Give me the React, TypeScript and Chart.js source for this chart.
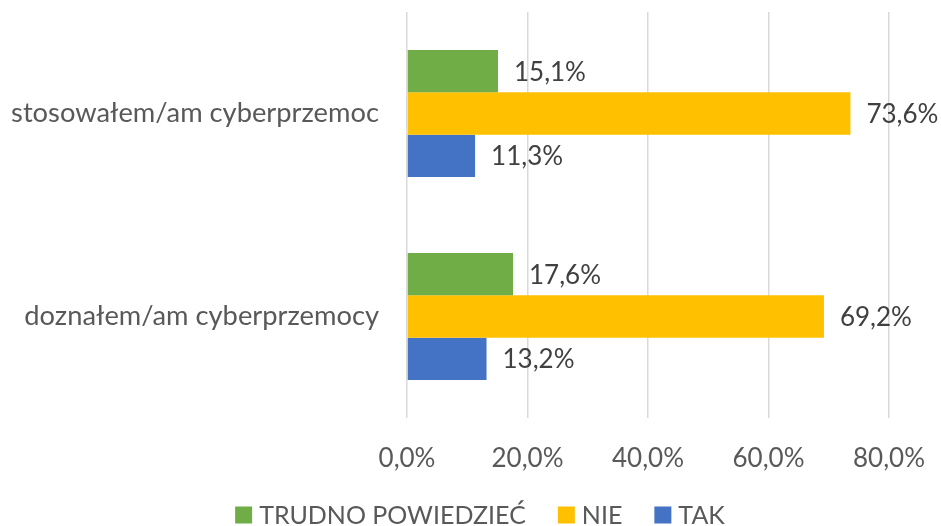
import React, { useEffect, useRef } from "react";
import { Chart, registerables } from "chart.js";

Chart.register(...registerables);

const categories = ["stosowałem/am cyberprzemoc", "doznałem/am cyberprzemocy"];
const seriesNames = ["TRUDNO POWIEDZIEĆ", "NIE", "TAK"];
const trudnoPowiedziec = [15.1, 17.6];
const nie = [73.6, 69.2];
const tak = [11.3, 13.2];
const seriesColors = ["#70AD47", "#FFC000", "#4472C4"];
const xTicks = [0, 20, 40, 60, 80];

const FONT_FAMILY = "Lato, 'Noto Sans', sans-serif";
const NUM_SIZE = 26;
const CAT_SIZE = 27.3;
const LEGEND_SIZE = 25;
const fmt = (v: number) => v.toFixed(1).replace(".", ",") + "%";

// Value labels placed just past the end of each bar
const valueLabels = {
  id: "valueLabels",
  afterDatasetsDraw(chart: any) {
    const ctx = chart.ctx;
    ctx.save();
    ctx.font = `${NUM_SIZE}px ${FONT_FAMILY}`;
    ctx.fillStyle = "#404040";
    ctx.textAlign = "left";
    ctx.textBaseline = "middle";
    chart.data.datasets.forEach((ds: any, i: number) => {
      const meta = chart.getDatasetMeta(i);
      meta.data.forEach((bar: any, j: number) => {
        ctx.fillText(fmt(ds.data[j]), bar.x + 16, bar.y + 1);
      });
    });
    ctx.restore();
  },
};

// Legend row along the bottom edge, built from the datasets
const bottomLegend = {
  id: "bottomLegend",
  afterDraw(chart: any) {
    const ctx = chart.ctx;
    ctx.save();
    ctx.font = `${LEGEND_SIZE}px ${FONT_FAMILY}`;
    ctx.textBaseline = "middle";
    ctx.textAlign = "left";
    const box = 17;
    const gap = 7;
    const itemGap = 32;
    const items = chart.data.datasets.map((ds: any) => ({
      label: ds.label,
      color: ds.backgroundColor,
      w: box + gap + ctx.measureText(ds.label).width,
    }));
    const total =
      items.reduce((s: number, it: any) => s + it.w, 0) + itemGap * (items.length - 1);
    let x = 480 - total / 2;
    const y = 515;
    items.forEach((it: any) => {
      ctx.fillStyle = it.color;
      ctx.fillRect(x, y - box / 2, box, box);
      ctx.fillStyle = "#595959";
      ctx.fillText(it.label, x + box + gap, y + 1);
      x += it.w + itemGap;
    });
    ctx.restore();
  },
};

const noScalePadding = (scale: any) => {
  scale.paddingTop = 0;
  scale.paddingBottom = 0;
  scale.paddingLeft = 0;
  scale.paddingRight = 0;
};

export default function App() {
  const canvasRef = useRef<HTMLCanvasElement>(null);

  useEffect(() => {
    const canvas = canvasRef.current;
    if (!canvas) return;
    const values = [trudnoPowiedziec, nie, tak];
    const chart = new Chart(canvas, {
      type: "bar",
      data: {
        labels: categories,
        datasets: seriesNames.map((name, i) => ({
          label: name,
          data: values[i],
          backgroundColor: seriesColors[i],
          borderWidth: 0,
          categoryPercentage: 0.626,
          barPercentage: 1,
        })),
      },
      options: {
        indexAxis: "y",
        animation: false,
        responsive: false,
        maintainAspectRatio: false,
        layout: { padding: { left: 0, right: 52, top: 12, bottom: 0 } },
        plugins: {
          legend: { display: false },
          tooltip: { enabled: false },
        },
        scales: {
          x: {
            min: 0,
            max: 80,
            afterBuildTicks: (scale: any) => {
              scale.ticks = xTicks.map((v) => ({ value: v }));
            },
            afterFit: (scale: any) => {
              scale.height = 108;
              noScalePadding(scale);
            },
            border: { display: false },
            grid: {
              color: "#D9D9D9",
              lineWidth: 1.5,
              drawTicks: false,
            },
            ticks: {
              padding: 25,
              color: "#595959",
              maxRotation: 0,
              font: { family: FONT_FAMILY, size: NUM_SIZE },
              callback: (v: any) => fmt(Number(v)),
            },
          },
          y: {
            afterFit: (scale: any) => {
              scale.width = 407;
              noScalePadding(scale);
            },
            border: { display: false },
            grid: { display: false, drawTicks: false },
            ticks: {
              padding: 28,
              color: "#595959",
              font: { family: FONT_FAMILY, size: CAT_SIZE },
            },
          },
        },
      },
      plugins: [valueLabels, bottomLegend],
    });
    return () => chart.destroy();
  }, []);

  return (
    <div
      style={{
        position: "fixed",
        left: 0,
        top: 0,
        width: 941,
        height: 526,
        background: "#FFFFFF",
      }}
    >
      <canvas ref={canvasRef} width={941} height={526} style={{ display: "block" }} />
    </div>
  );
}
